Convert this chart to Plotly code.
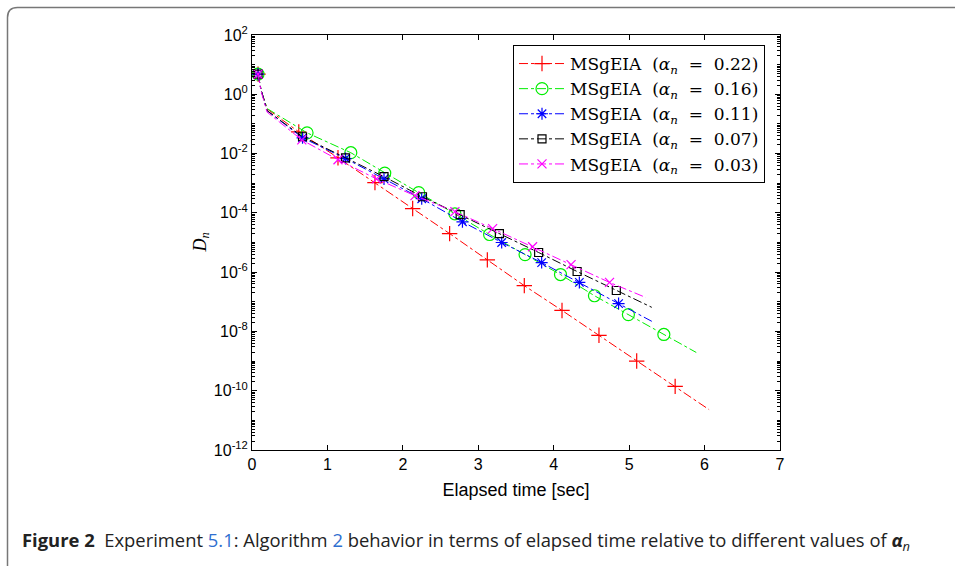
import plotly.graph_objects as go

# Elapsed time [sec] and D_n for each step size alpha_n
t_022 = [0.08, 0.12, 0.20, 0.62, 1.14, 1.63, 2.13, 2.62, 3.12, 3.61, 4.11, 4.60, 5.10, 5.61, 6.06]
d_022 = [4.8, 1.4, 0.32, 5.4e-2, 7.2e-3, 1.05e-3, 1.4e-4, 2.0e-5, 2.6e-6, 3.5e-7, 5.1e-8, 7.4e-9, 1.0e-9, 1.4e-10, 2.3e-11]

t_016 = [0.08, 0.12, 0.20, 0.73, 1.31, 1.76, 2.21, 2.69, 3.15, 3.62, 4.09, 4.54, 4.99, 5.46, 5.89]
d_016 = [4.8, 1.4, 0.33, 5.0e-2, 1.07e-2, 2.2e-3, 4.8e-4, 9.3e-5, 1.86e-5, 3.9e-6, 8.3e-7, 1.6e-7, 3.7e-8, 7.9e-9, 1.95e-9]

t_011 = [0.08, 0.12, 0.20, 0.67, 1.24, 1.75, 2.25, 2.79, 3.31, 3.84, 4.34, 4.86, 5.33]
d_011 = [4.8, 1.4, 0.28, 3.4e-2, 6.8e-3, 1.4e-3, 3.0e-4, 5.0e-5, 1.0e-5, 2.1e-6, 4.5e-7, 8.7e-8, 2.0e-8]

t_007 = [0.08, 0.12, 0.20, 0.67, 1.24, 1.75, 2.26, 2.76, 3.28, 3.80, 4.31, 4.83, 5.30]
d_007 = [4.8, 1.4, 0.28, 3.7e-2, 7.2e-3, 1.66e-3, 3.5e-4, 8.7e-5, 2.0e-5, 4.6e-6, 1.05e-6, 2.4e-7, 6.5e-8]

t_003 = [0.08, 0.12, 0.20, 0.66, 1.14, 1.65, 2.16, 2.69, 3.19, 3.72, 4.23, 4.74, 5.22]
d_003 = [4.8, 1.3, 0.25, 2.9e-2, 6.2e-3, 1.4e-3, 3.8e-4, 1.1e-4, 2.95e-5, 7.2e-6, 1.8e-6, 4.5e-7, 1.4e-7]

alphas = ["0.22", "0.16", "0.11", "0.07", "0.03"]
colors = ["#ff0000", "#00ee00", "#0000ff", "#000000", "#ff00ff"]
symbols = ["cross-thin-open", "circle-open", "asterisk-open", "square-open", "x-thin-open"]
msizes = [11, 12, 10, 8, 9]

x_ticks = [0, 1, 2, 3, 4, 5, 6, 7]
y_exps = [2, 0, -2, -4, -6, -8, -10, -12]

series = [(t_022, d_022), (t_016, d_016), (t_011, d_011), (t_007, d_007), (t_003, d_003)]

fig = go.Figure()
serif = "DejaVu Serif"
sans = "Liberation Sans"
sp = "&nbsp;"

for (t, d), a, c, s, ms in zip(series, alphas, colors, symbols, msizes):
    # markers sit on the first point and every recorded iterate except the final one
    mk_t = [t[0]] + t[3:-1]
    mk_d = [d[0]] + d[3:-1]
    fig.add_trace(go.Scatter(x=t, y=d, mode="lines", showlegend=False,
                             line=dict(color=c, width=1, dash="dashdot"), hoverinfo="skip"))
    fig.add_trace(go.Scatter(x=mk_t, y=mk_d, mode="markers", showlegend=False,
                             marker=dict(symbol=s, size=ms, color=c, line=dict(color=c, width=1.2))))
    fig.add_trace(go.Scatter(x=[None], y=[None], mode="lines+markers",
                             name=f"MSgEIA{sp*2}(<i>α</i><sub><i>n</i></sub>{sp*2}={sp*2}{a})",
                             line=dict(color=c, width=1, dash="dashdot"),
                             marker=dict(symbol=s, size=ms, color=c, line=dict(color=c, width=1.2))))

axis_common = dict(showline=True, linecolor="black", linewidth=1, mirror="ticks",
                   ticks="inside", tickcolor="black", ticklen=5, showgrid=False, zeroline=False,
                   tickfont=dict(family=sans, size=16, color="black"))

fig.update_xaxes(range=[0, 7], tickvals=x_ticks, ticktext=[str(v) for v in x_ticks],
                 title=dict(text="Elapsed time [sec]", font=dict(family=sans, size=18, color="black"),
                            standoff=11),
                 **axis_common)
fig.update_yaxes(type="log", range=[-12, 2],
                 tickvals=[10.0 ** e for e in y_exps], ticktext=[f"10<sup>{e}</sup>" for e in y_exps],
                 minor=dict(ticks="inside", dtick="D1", ticklen=3, tickcolor="black"),
                 **axis_common)

W, H = 955, 566
L, R, T, B = 252, 175, 35, 116
pw, ph = W - L - R, H - T - B


def px(x):
    return (x - L) / pw


def py(y):
    return (H - B - y) / ph


# rounded frame around the figure and its caption
r = 10
frame = (f"M {px(7.5)},{py(566)} L {px(7.5)},{py(7.5 + r)} "
         f"Q {px(7.5)},{py(7.5)} {px(7.5 + r)},{py(7.5)} L {px(955)},{py(7.5)}")
fig.add_shape(type="path", path=frame, xref="paper", yref="paper",
              line=dict(color="#777777", width=1.5))

fig.add_annotation(text="<i>D<sub>n</sub></i>", x=px(188), y=py(243), xref="paper", yref="paper",
                   showarrow=False, textangle=-90, font=dict(family="Liberation Serif", size=18, color="black"))

caption = ("<b>Figure 2</b>  Experiment <span style='color:#2f6fd0'>5.1</span>: Algorithm "
           "<span style='color:#2f6fd0'>2</span> behavior in terms of elapsed time relative to "
           "different values of <b><i>α</i></b><sub><i>n</i></sub>")
fig.add_annotation(text=caption, x=px(20), y=py(541), xref="paper", yref="paper",
                   xanchor="left", yanchor="middle", showarrow=False,
                   font=dict(family="Open Sans", size=18.4, color="#222222"))

fig.update_layout(
    width=W, height=H,
    margin=dict(l=L, r=R, t=T, b=B),
    paper_bgcolor="white", plot_bgcolor="white",
    legend=dict(x=px(513), y=py(45), xanchor="left", yanchor="top",
                bordercolor="black", borderwidth=1, bgcolor="white",
                font=dict(family=serif, size=17, color="black"),
                tracegroupgap=0, itemwidth=46),
)

fig.write_html("out.html")
